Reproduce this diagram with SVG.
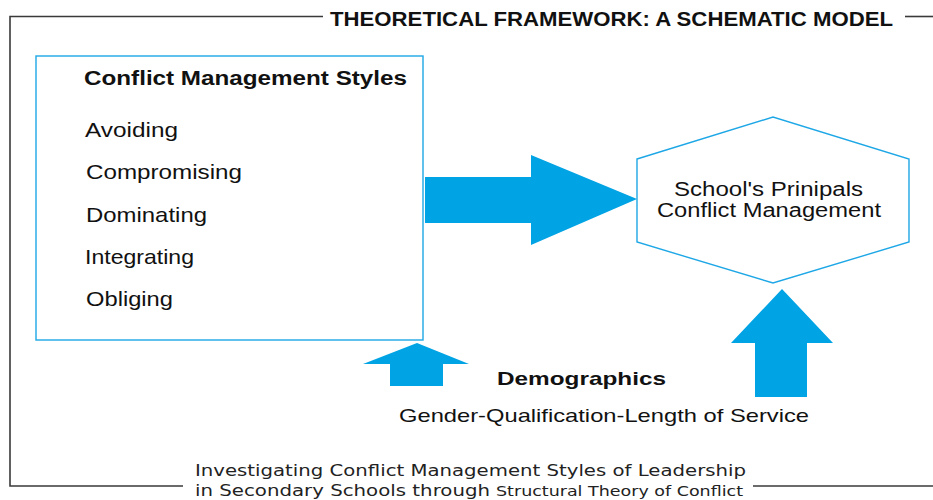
<svg xmlns="http://www.w3.org/2000/svg" width="933" height="500" viewBox="0 0 933 500">
  <style>
    .frame { fill: none; stroke: #3a3a3a; stroke-width: 1.6; }
    .node { fill: #ffffff; stroke: #1ea7e6; stroke-width: 1.4; }
    .arrow { fill: #00a3e4; stroke: none; }
    .sans { font-family: "Liberation Sans", Arial, sans-serif; fill: #111111; }
    .bold { font-weight: bold; }
    .caption { font-family: "DejaVu Sans", Tahoma, Verdana, sans-serif; fill: #222222; }
  </style>

  <rect width="933" height="500" fill="#ffffff"/>

  <!-- outer frame with gaps for the title and caption -->
  <g id="frame">
    <path class="frame" d="M323,16.5 H10 V486 H183"/>
    <path class="frame" d="M905,16.5 H933"/>
    <path class="frame" d="M753,486 H933"/>
  </g>

  <g id="title">
    <text class="sans bold" x="330" y="26" font-size="20" textLength="563" lengthAdjust="spacingAndGlyphs">THEORETICAL FRAMEWORK: A SCHEMATIC MODEL</text>
  </g>

  <!-- list of conflict management styles -->
  <g id="styles">
    <rect class="node" x="36" y="56" width="387" height="284"/>
    <text class="sans bold" x="84" y="85" font-size="20" textLength="323" lengthAdjust="spacingAndGlyphs">Conflict Management Styles</text>
    <text class="sans" x="85" y="137" font-size="21" textLength="93" lengthAdjust="spacingAndGlyphs">Avoiding</text>
    <text class="sans" x="86" y="179" font-size="21" textLength="156" lengthAdjust="spacingAndGlyphs">Compromising</text>
    <text class="sans" x="86" y="221.5" font-size="21" textLength="121" lengthAdjust="spacingAndGlyphs">Dominating</text>
    <text class="sans" x="85" y="264" font-size="21" textLength="109" lengthAdjust="spacingAndGlyphs">Integrating</text>
    <text class="sans" x="86" y="306" font-size="21" textLength="87" lengthAdjust="spacingAndGlyphs">Obliging</text>
  </g>

  <!-- outcome node -->
  <g id="principals">
    <polygon class="node" points="637,159 773,117 909,159 909,242 773,283 637,242"/>
    <text class="sans" x="674" y="196" font-size="20" textLength="189" lengthAdjust="spacingAndGlyphs">School's Prinipals</text>
    <text class="sans" x="657" y="217" font-size="20" textLength="224" lengthAdjust="spacingAndGlyphs">Conflict Management</text>
  </g>

  <g id="demographics">
    <text class="sans bold" x="497" y="385" font-size="19" textLength="169" lengthAdjust="spacingAndGlyphs">Demographics</text>
    <text class="sans" x="399" y="422" font-size="19" textLength="410" lengthAdjust="spacingAndGlyphs">Gender-Qualification-Length of Service</text>
  </g>

  <!-- block arrows -->
  <g id="connectors">
    <polygon class="arrow" points="425,177 531,177 531,155 637,199 531,245 531,223 425,223"/>
    <polygon class="arrow" points="417,343 469,364 443,364 443,386 390,386 390,364 363,364"/>
    <polygon class="arrow" points="782,289 833,343 807,343 807,397 755,397 755,343 731,343"/>
  </g>

  <g id="caption">
    <text class="caption" x="195" y="476" font-size="16.5" textLength="551" lengthAdjust="spacingAndGlyphs">Investigating Conflict Management Styles of Leadership</text>
    <text class="caption" x="195" y="495.5" font-size="16.5" textLength="295" lengthAdjust="spacingAndGlyphs">in Secondary Schools through</text>
    <text class="caption" x="496" y="495.5" font-size="14.5" textLength="247" lengthAdjust="spacingAndGlyphs">Structural Theory of Conflict</text>
  </g>
</svg>
